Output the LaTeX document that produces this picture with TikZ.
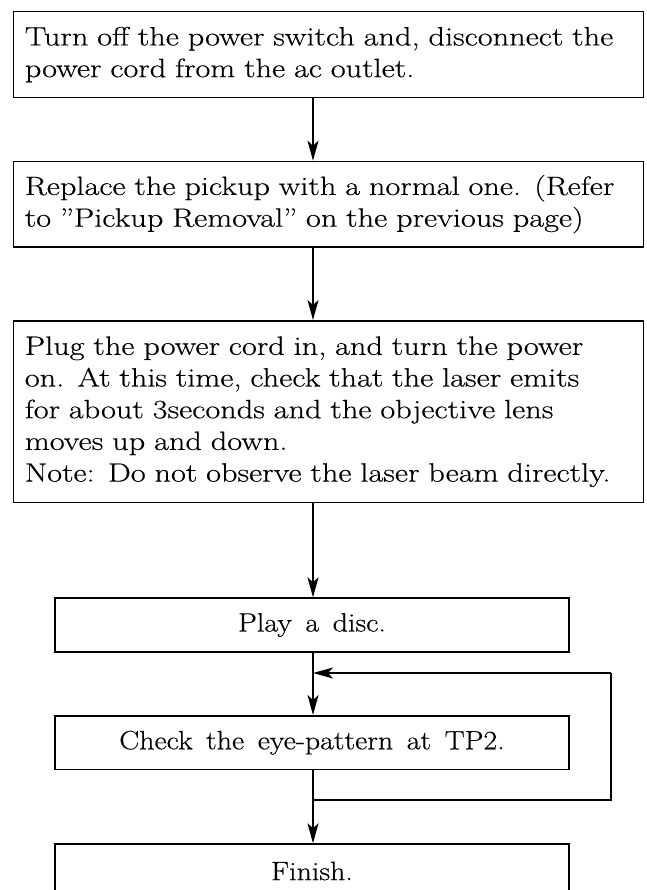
\documentclass[tikz,border=0pt]{standalone}
\usepackage{fontspec}
\setmainfont{Latin Modern Roman}[FakeStretch=1.13, WordSpace=1.5, FakeBold=0.4]
\newfontfamily\widefont{Latin Modern Roman}[FakeStretch=1.22, WordSpace=1.65, FakeBold=0.4]
\usetikzlibrary{arrows.meta}
\begin{document}
\begin{tikzpicture}[x=1pt,y=-1pt,
  box/.style={draw, line width=1.7pt, rectangle, anchor=north west, inner ysep=0pt,
    font=\fontsize{26.5}{31.7}\selectfont},
  widebox/.style={box, inner xsep=11.3pt, text width=607.4pt, minimum width=630pt, align=left,
    font=\fontsize{26.5}{31.7}\selectfont\widefont},
  smallbox/.style={box, inner xsep=0pt, minimum width=513.7pt, minimum height=53.7pt, align=center},
  flow/.style={line width=1.4pt, -{Stealth[length=20pt,width=11pt,inset=5pt]}},
  loopline/.style={line width=1.4pt}]
\useasboundingbox[fill=white] (0,0) rectangle (646,890);
\coordinate (ax) at (313,0);
\node[widebox, minimum height=86pt] (b1) at (12.7,10.7)
  {Turn off the power switch and, disconnect the\\ power cord from the ac outlet.};
\node[widebox, minimum height=85.3pt] (b2) at (12.7,160.7)
  {Replace the pickup with a normal one. (Refer\\ to ”Pickup Removal” on the previous page)};
\node[widebox, minimum height=181.7pt] (b3) at (12.7,320)
  {Plug the power cord in, and turn the power\\ on. At this time, check that the laser emits\\ for about 3seconds and the objective lens\\ moves up and down.\\ Note: Do not observe the laser beam directly.};
\node[smallbox] (b4) at (54.3,597.3) {Play a disc.};
\node[smallbox] (b5) at (54.3,715) {Check the eye-pattern at TP2.};
\node[smallbox] (b6) at (54.3,843.3) {Finish.};
\draw[flow] (b1.south -| ax) -- (b2.north -| ax);
\draw[flow] (b2.south -| ax) -- (b3.north -| ax);
\draw[flow] (b3.south -| ax) -- (b4.north -| ax);
\draw[flow] (b4.south -| ax) -- (b5.north -| ax);
\draw[flow] (b5.south -| ax) -- (b6.north -| ax);
\coordinate (j1) at (313,800);
\coordinate (j2) at (611,800);
\coordinate (j3) at (611,673);
\coordinate (j4) at (313,673);
\draw[loopline] (j1) -- (j2) -- (j3);
\draw[flow] (j3) -- (j4);
\end{tikzpicture}
\end{document}
